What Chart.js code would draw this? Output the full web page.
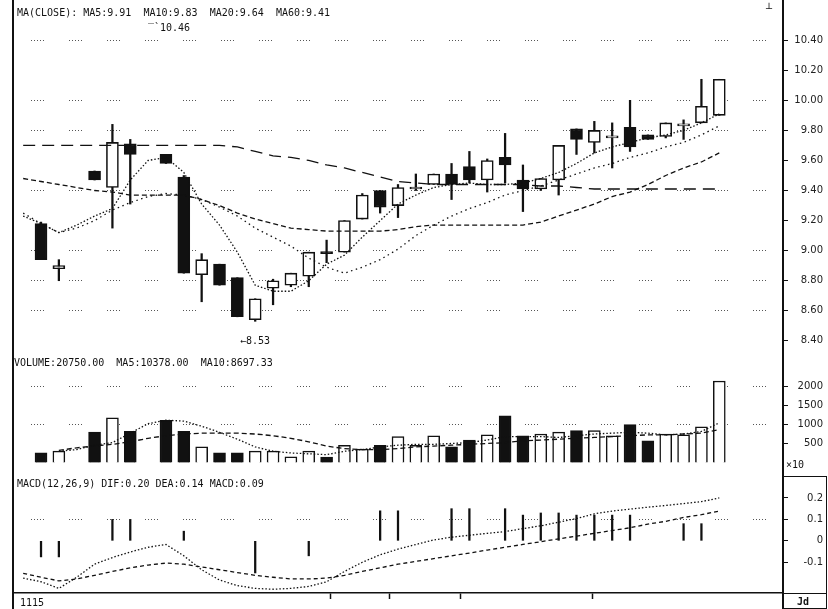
<!DOCTYPE html>
<html>
<head>
<meta charset="utf-8">
<script src="https://cdn.jsdelivr.net/npm/chart.js@4.4.1/dist/chart.umd.min.js"></script>
<style>
  html, body { margin: 0; padding: 0; background: #fff; }
  #wrap { position: relative; width: 828px; height: 609px; overflow: hidden; background: #fff; }
  canvas { position: absolute; }
  .t { position: absolute; font: 10px "DejaVu Sans Mono", monospace; color: #111; white-space: pre; line-height: 11px; }
  .ln { position: absolute; background: #111; }
  .box { position: absolute; border: 1.5px solid #111; box-sizing: border-box; }
</style>
</head>
<body>
<div id="wrap">
  <canvas id="cMain" width="815" height="350" style="left:13px;top:5px"></canvas>
  <canvas id="cVol" width="815" height="115" style="left:13px;top:358px"></canvas>
  <canvas id="cMacd" width="815" height="133" style="left:13px;top:476px"></canvas>

  <div class="ln" style="left:12px;top:0;width:2px;height:609px"></div>
  <div class="ln" style="left:782px;top:0;width:1.5px;height:609px"></div>
  <div class="box" style="left:782px;top:476px;width:45px;height:118px"></div>
  <div class="box" style="left:782px;top:593px;width:45px;height:16px"></div>

  <div class="t" style="left:17px;top:7px">MA(CLOSE): MA5:9.91  MA10:9.83  MA20:9.64  MA60:9.41</div>
  <div class="t" style="left:148px;top:22px">‾`10.46</div>
  <div class="t" style="left:766px;top:3px">┴</div>
  <div class="t" style="left:240px;top:335px">←8.53</div>
  <div class="t" style="left:14px;top:357px">VOLUME:20750.00  MA5:10378.00  MA10:8697.33</div>
  <div class="t" style="left:786px;top:459px">×10</div>
  <div class="t" style="left:17px;top:478px">MACD(12,26,9) DIF:0.20 DEA:0.14 MACD:0.09</div>
  <div class="t" style="left:20px;top:597px">1115</div>
  <div class="t" style="left:797px;top:596px;font-weight:bold">Jd</div>
</div>

<script>
// ---- data (index 0 = first visible candle; MA / MACD lines start one day earlier) ----
const open  = [9.18, 8.88, null, 9.53, 9.42, 9.71, null, 9.64, 9.49, 8.84, 8.91, 8.82, 8.54, 8.75, 8.77, 8.83, 8.99, 8.99, 9.21, 9.40,
               9.30, 9.41, 9.44, 9.51, 9.56, 9.47, 9.62, 9.47, 9.41, 9.47, 9.81, 9.72, 9.75, 9.82, 9.77, 9.76, 9.83, 9.85, 9.90];
const high  = [9.19, 8.94, null, 9.53, 9.84, 9.74, null, 9.64, 9.50, 8.98, 8.91, 8.82, 8.68, 8.81, 8.85, 8.99, 9.07, 9.20, 9.38, 9.40,
               9.44, 9.51, 9.51, 9.58, 9.66, 9.61, 9.78, 9.57, 9.48, 9.70, 9.81, 9.86, 9.85, 10.00, 9.77, 9.85, 9.87, 10.14, 10.14];
const low   = [8.94, 8.80, null, 9.47, 9.15, 9.31, null, 9.58, 8.85, 8.66, 8.77, 8.56, 8.53, 8.64, 8.76, 8.76, 8.92, 8.99, 9.21, 9.25,
               9.22, 9.40, 9.44, 9.34, 9.45, 9.39, 9.45, 9.26, 9.40, 9.37, 9.64, 9.65, 9.55, 9.66, 9.74, 9.75, 9.74, 9.85, 9.90];
const close = [8.94, 8.90, null, 9.47, 9.72, 9.64, null, 9.58, 8.85, 8.94, 8.77, 8.56, 8.68, 8.80, 8.85, 8.99, 8.98, 9.20, 9.37, 9.29,
               9.42, 9.42, 9.51, 9.44, 9.47, 9.60, 9.57, 9.41, 9.48, 9.70, 9.74, 9.80, 9.76, 9.69, 9.74, 9.85, 9.84, 9.96, 10.14];

const lineStart = -1;
const ma5  = [9.23, 9.18, 9.12, 9.17, 9.23, 9.28, 9.47, 9.60, 9.62, 9.52, 9.31, 9.17, 8.99, 8.77, 8.73, 8.73, 8.80, 8.91, 8.97, 9.09,
              9.20, 9.31, 9.37, 9.42, 9.44, 9.45, 9.44, 9.44, 9.45, 9.48, 9.52, 9.58, 9.65, 9.69, 9.72, 9.75, 9.77, 9.80, 9.85, 9.91];
const ma10 = [9.25, 9.18, 9.12, 9.15, 9.20, 9.27, 9.32, 9.36, 9.38, 9.37, 9.34, 9.29, 9.23, 9.15, 9.09, 9.03, 8.95, 8.89, 8.85, 8.89,
              8.94, 9.01, 9.10, 9.17, 9.23, 9.28, 9.32, 9.37, 9.40, 9.43, 9.47, 9.51, 9.55, 9.58, 9.62, 9.65, 9.69, 9.72, 9.77, 9.83];
const ma20 = [9.48, 9.46, 9.44, 9.42, 9.40, 9.39, 9.37, 9.37, 9.37, 9.37, 9.34, 9.30, 9.25, 9.21, 9.18, 9.15, 9.14, 9.13, 9.13, 9.13,
              9.13, 9.14, 9.16, 9.17, 9.17, 9.17, 9.17, 9.17, 9.17, 9.19, 9.23, 9.27, 9.31, 9.36, 9.39, 9.44, 9.50, 9.55, 9.59, 9.65];
const ma60 = [9.70, 9.70, 9.70, 9.70, 9.70, 9.70, 9.70, 9.70, 9.70, 9.70, 9.70, 9.70, 9.69, 9.66, 9.63, 9.62, 9.60, 9.57, 9.55, 9.52,
              9.49, 9.46, 9.45, 9.44, 9.44, 9.44, 9.44, 9.44, 9.44, 9.43, 9.43, 9.42, 9.41, 9.41, 9.41, 9.41, 9.41, 9.41, 9.41, 9.41];

// volume in units of 10 lots
const volume = [250, 300, null, 800, 1180, 820, null, 1110, 820, 410, 250, 250, 300, 300, 150, 300, 140, 450, 350, 450,
                680, 450, 700, 410, 590, 730, 1230, 700, 750, 800, 840, 840, 700, 1000, 570, 750, 730, 940, 2150];
const volMa5  = [null, 295, 340, 455, 523, 773, 1023, 1114, 1091, 955, 795, 614, 409, 295, 250, 227, 205, 295, 340, 409,
                 455, 477, 477, 500, 523, 591, 682, 682, 682, 659, 705, 750, 773, 795, 773, 727, 750, 818, 1045];
const volMa10 = [null, 318, 386, 432, 477, 545, 636, 705, 750, 773, 773, 773, 750, 705, 636, 545, 432, 364, 340, 340,
                 364, 409, 432, 455, 477, 500, 523, 568, 591, 614, 636, 659, 682, 705, 727, 727, 750, 773, 864];

const dif = [-0.174, -0.191, -0.222, -0.170, -0.109, -0.078, -0.052, -0.030, -0.017, -0.070, -0.135, -0.183, -0.209, -0.222, -0.226,
             -0.222, -0.213, -0.191, -0.143, -0.100, -0.065, -0.039, -0.017, 0.004, 0.017, 0.026, 0.035, 0.043, 0.057, 0.070,
             0.087, 0.104, 0.126, 0.139, 0.148, 0.157, 0.165, 0.174, 0.183, 0.200];
const dea = [-0.152, -0.170, -0.187, -0.178, -0.161, -0.143, -0.126, -0.113, -0.104, -0.109, -0.122, -0.135, -0.148, -0.161, -0.170,
             -0.178, -0.178, -0.174, -0.161, -0.143, -0.126, -0.109, -0.096, -0.083, -0.070, -0.057, -0.043, -0.030, -0.017, -0.004,
             0.009, 0.022, 0.035, 0.048, 0.061, 0.078, 0.091, 0.109, 0.122, 0.139];
const macdBar = [-0.075, -0.075, null, null, 0.10, 0.10, null, null, 0.045, null, null, null, -0.15, null, null, -0.07, null, null, null, 0.14,
                 0.14, null, null, 0.15, 0.15, null, 0.15, 0.12, 0.13, 0.13, 0.12, 0.12, 0.12, 0.12, null, null, 0.08, 0.08, null];

const priceTicks = [8.4, 8.6, 8.8, 9.0, 9.2, 9.4, 9.6, 9.8, 10.0, 10.2, 10.4];
const priceGrid  = [8.6, 8.8, 9.0, 9.4, 9.8, 10.0, 10.4];
const volTicks   = [500, 1000, 1500, 2000];
const volGrid    = [1000, 2000];
const macdTicks  = [-0.1, 0, 0.1, 0.2];
const macdGrid   = [0.1];
const monthTicks = [16.2, 19.55, 23.5, 30.9];

// ---- helpers ----
const INK = '#111';
const X_MIN = -1.57, X_MAX = 41.57;

const pts = (arr, start = 0) => arr.map((v, i) => ({ x: i + start, y: v })).filter(p => p.y !== null);
const isDown = i => close[i] < open[i];

function onGrid(list) {
  return c => (c.tick && list.some(v => Math.abs(v - c.tick.value) < 1e-6)) ? '#555' : 'rgba(0,0,0,0)';
}

function yAxis(min, max, ticks, grid, fmt) {
  return {
    position: 'right', min, max,
    afterBuildTicks: s => { s.ticks = ticks.map(v => ({ value: v })); },
    afterFit: s => { s.width = 40; },
    border: { display: true, color: INK, width: 1.5, dash: [1, 2, 1, 2, 1, 2, 1, 2, 1, 25], dashOffset: 20 },
    grid: { color: onGrid(grid), lineWidth: 1, offset: false, drawTicks: true, tickLength: 5,
            tickColor: INK, tickWidth: 1, tickBorderDash: [] },
    ticks: { crossAlign: 'far', padding: 2, color: '#222', autoSkip: false,
             font: { family: 'DejaVu Sans', size: 10 }, callback: v => fmt(v) }
  };
}

function xAxis(show) {
  const ax = { type: 'linear', min: X_MIN, max: X_MAX, offset: false, display: show };
  if (show) {
    Object.assign(ax, {
      afterBuildTicks: s => { s.ticks = monthTicks.map(v => ({ value: v })); },
      afterFit: s => { s.height = 16; },
      border: { display: true, color: INK, width: 1.5 },
      grid: { offset: false, drawOnChartArea: false, drawTicks: true, tickLength: 6, tickColor: INK, tickWidth: 1.5 },
      ticks: { display: false }
    });
  }
  return ax;
}

function line(data, dash, start = lineStart) {
  return { type: 'line', data: pts(data, start), borderColor: INK, borderWidth: 1.3, borderDash: dash,
           pointRadius: 0, tension: 0, fill: false, order: 1 };
}

const baseOpts = {
  responsive: false, animation: false,
  layout: { padding: { right: 5 }, autoPadding: false },
  plugins: { legend: { display: false }, tooltip: { enabled: false } },
  datasets: { bar: { grouped: false } }
};

// ---- main price panel ----
const candleIdx = open.map((v, i) => i).filter(i => open[i] !== null);
new Chart(document.getElementById('cMain'), {
  type: 'bar',
  data: {
    datasets: [
      { data: candleIdx.map(i => ({ x: i, y: [low[i], high[i]] })), backgroundColor: INK,
        barThickness: 1.6, minBarLength: 1, order: 3 },
      { data: candleIdx.map(i => ({ x: i, y: [open[i], close[i]] })),
        backgroundColor: candleIdx.map(i => isDown(i) ? INK : '#fff'),
        borderColor: INK, borderWidth: 1.6, borderSkipped: false, barThickness: 12, minBarLength: 2, order: 2 },
      line(ma5, [1.5, 2]),
      line(ma10, [1.5, 3.5]),
      line(ma20, [5, 3]),
      line(ma60, [12, 7])
    ]
  },
  options: Object.assign({}, baseOpts, {
    scales: { x: xAxis(false), y: yAxis(8.359, 10.581, priceTicks, priceGrid, v => v.toFixed(2)) }
  })
});

// ---- volume panel ----
const volIdx = volume.map((v, i) => i).filter(i => volume[i] !== null);
new Chart(document.getElementById('cVol'), {
  type: 'bar',
  data: {
    datasets: [
      { data: volIdx.map(i => ({ x: i, y: volume[i] })),
        backgroundColor: volIdx.map(i => isDown(i) ? INK : '#fff'),
        borderColor: INK, borderWidth: 1.5, borderSkipped: 'start', barThickness: 12, order: 2 },
      line(volMa5, [1.5, 2], 0),
      line(volMa10, [5, 3], 0)
    ]
  },
  options: Object.assign({}, baseOpts, {
    scales: { x: xAxis(false), y: yAxis(-68, 2545, volTicks, volGrid, v => String(v)) }
  })
});

// ---- MACD panel ----
new Chart(document.getElementById('cMacd'), {
  type: 'bar',
  data: {
    datasets: [
      { data: pts(macdBar), backgroundColor: INK, barThickness: 1.6, order: 2 },
      line(dif, [1.5, 2]),
      line(dea, [4, 3])
    ]
  },
  options: Object.assign({}, baseOpts, {
    scales: { x: xAxis(true), y: yAxis(-0.2435, 0.2652, macdTicks, macdGrid, v => v === 0 ? '0' : v.toFixed(1)) }
  })
});
</script>
</body>
</html>
